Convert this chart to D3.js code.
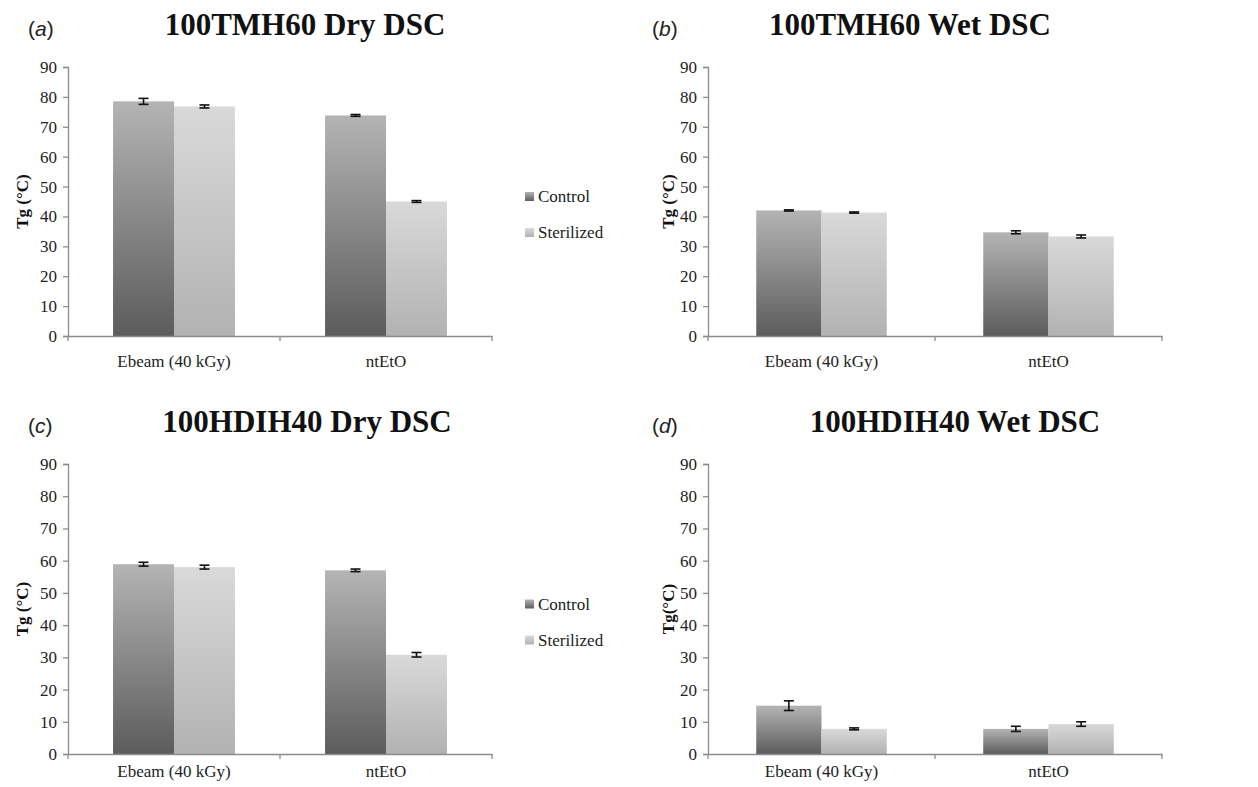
<!DOCTYPE html>
<html>
<head>
<meta charset="utf-8">
<script src="https://cdn.jsdelivr.net/npm/d3@7"></script>
<style>
  html, body { margin: 0; padding: 0; background: #fff; }
  svg { display: block; }
</style>
</head>
<body>
<svg id="chart" width="1258" height="787"></svg>
<script>
// ---------- DATA ----------
const categories = ["Ebeam (40 kGy)", "ntEtO"];
const seriesNames = ["Control", "Sterilized"];
const yTicks = [0, 10, 20, 30, 40, 50, 60, 70, 80, 90];
const panelLetters = ["a", "b", "c", "d"];
const panelTitles = ["100TMH60 Dry DSC", "100TMH60 Wet DSC", "100HDIH40 Dry DSC", "100HDIH40 Wet DSC"];
const yLabels = ["Tg (°C)", "Tg (°C)", "Tg (°C)", "Tg(°C)"];
// values per category: [Control, Sterilized]
const valuesA = [[78.5, 76.8], [73.8, 45.0]];
const errorsA = [[1.0, 0.5], [0.3, 0.3]];
const valuesB = [[42.0, 41.3], [34.7, 33.3]];
const errorsB = [[0.2, 0.2], [0.5, 0.5]];
const valuesC = [[58.9, 58.0], [57.0, 30.8]];
const errorsC = [[0.6, 0.6], [0.4, 0.7]];
const valuesD = [[15.0, 7.8], [7.8, 9.3]];
const errorsD = [[1.5, 0.3], [0.8, 0.7]];
const legendPanels = [true, false, true, false];

// ---------- LAYOUT ----------
const layout = [
  { x0: 68,  x1: 492,  yTop: 67,  yBot: 336, xPad: 19, labX: 22,  titleX: 305, titleY: 35,  letterX: 28,  letterY: 36 },
  { x0: 708, x1: 1162, yTop: 67,  yBot: 336, xPad: 19, labX: 668, titleX: 910, titleY: 35,  letterX: 652, letterY: 36 },
  { x0: 68,  x1: 492,  yTop: 464, yBot: 754, xPad: 11, labX: 22,  titleX: 307, titleY: 432, letterX: 28,  letterY: 433 },
  { x0: 708, x1: 1162, yTop: 464, yBot: 754, xPad: 11, labX: 668, titleX: 955, titleY: 432, letterX: 652, letterY: 433 }
];
const allValues = [valuesA, valuesB, valuesC, valuesD];
const allErrors = [errorsA, errorsB, errorsC, errorsD];

const svg = d3.select("#chart");
const serif = "'Liberation Serif', 'Times New Roman', serif";
const sans = "'Liberation Sans', Arial, sans-serif";
const axisColor = "#8c8c8c";

// gradients
const defs = svg.append("defs");
const gradStops = {
  Control: ["#b4b4b4", "#5c5c5c"],
  Sterilized: ["#d9d9d9", "#b2b2b2"]
};
seriesNames.forEach(s => {
  const g = defs.append("linearGradient").attr("id", "grad-" + s)
    .attr("x1", 0).attr("y1", 0).attr("x2", 0).attr("y2", 1);
  g.append("stop").attr("offset", "0%").attr("stop-color", gradStops[s][0]);
  g.append("stop").attr("offset", "100%").attr("stop-color", gradStops[s][1]);
});

layout.forEach((L, pi) => {
  const g = svg.append("g");
  const values = allValues[pi];
  const errors = allErrors[pi];

  const y = d3.scaleLinear().domain([0, 90]).range([L.yBot, L.yTop]);
  const x0 = d3.scaleBand().domain(categories).range([L.x0, L.x1]).paddingInner(0).paddingOuter(0);
  const groupW = x0.bandwidth() * 0.575;
  const x1 = d3.scaleBand().domain(seriesNames).range([0, groupW]);

  // y axis
  const yAxis = d3.axisLeft(y).tickValues(yTicks).tickSize(5).tickPadding(6);
  const ya = g.append("g").attr("transform", `translate(${L.x0},0)`).call(yAxis)
    .attr("font-family", serif).attr("font-size", 17);
  ya.select(".domain").attr("stroke", axisColor).attr("stroke-width", 1.3);
  ya.selectAll(".tick line").attr("stroke", axisColor).attr("stroke-width", 1.3);
  ya.selectAll(".tick text").attr("fill", "#222");

  // bars
  categories.forEach((cat, ci) => {
    const gx = x0(cat) + (x0.bandwidth() - groupW) / 2;
    seriesNames.forEach((s, si) => {
      const v = values[ci][si];
      g.append("rect")
        .attr("x", gx + x1(s))
        .attr("y", y(v))
        .attr("width", x1.bandwidth())
        .attr("height", y(0) - y(v))
        .attr("fill", `url(#grad-${s})`);
      // error bar
      const cx = gx + x1(s) + x1.bandwidth() / 2;
      const e = errors[ci][si];
      const eg = g.append("g").attr("stroke", "#111").attr("stroke-width", 1.6);
      eg.append("line").attr("x1", cx).attr("x2", cx).attr("y1", y(v + e)).attr("y2", y(v - e));
      eg.append("line").attr("x1", cx - 5).attr("x2", cx + 5).attr("y1", y(v + e)).attr("y2", y(v + e));
      eg.append("line").attr("x1", cx - 5).attr("x2", cx + 5).attr("y1", y(v - e)).attr("y2", y(v - e));
    });
  });

  // x axis
  const xAxis = d3.axisBottom(x0).tickSize(0).tickPadding(L.xPad);
  const xa = g.append("g").attr("transform", `translate(0,${L.yBot})`).call(xAxis)
    .attr("font-family", serif).attr("font-size", 17);
  xa.select(".domain").attr("stroke", axisColor).attr("stroke-width", 1.3);
  xa.selectAll(".tick text").attr("fill", "#222");
  // category separator ticks
  const bounds = [L.x0, x0(categories[1]), L.x1];
  bounds.forEach(bx => {
    g.append("line").attr("x1", bx).attr("x2", bx).attr("y1", L.yBot).attr("y2", L.yBot + 5)
      .attr("stroke", axisColor).attr("stroke-width", 1.3);
  });

  // y label
  g.append("text")
    .attr("transform", `translate(${L.labX},${(L.yTop + L.yBot) / 2}) rotate(-90)`)
    .attr("text-anchor", "middle").attr("dominant-baseline", "central")
    .attr("font-family", serif).attr("font-weight", "bold").attr("font-size", 17)
    .attr("fill", "#111")
    .text(yLabels[pi]);

  // title
  g.append("text")
    .attr("x", L.titleX).attr("y", L.titleY)
    .attr("text-anchor", "middle")
    .attr("font-family", serif).attr("font-weight", "bold").attr("font-size", 31)
    .attr("fill", "#111")
    .text(panelTitles[pi]);

  // panel letter
  const lt = g.append("text").attr("x", L.letterX).attr("y", L.letterY)
    .attr("font-family", sans).attr("font-size", 21).attr("fill", "#222");
  lt.append("tspan").text("(");
  lt.append("tspan").attr("font-style", "italic").text(panelLetters[pi]);
  lt.append("tspan").text(")");

  // legend
  if (legendPanels[pi]) {
    const midY = (L.yTop + L.yBot) / 2;
    const legY = [midY - 5, midY + 31];
    seriesNames.forEach((s, si) => {
      g.append("rect").attr("x", 525).attr("y", legY[si] - 4.5).attr("width", 9).attr("height", 9)
        .attr("fill", `url(#grad-${s})`);
      g.append("text").attr("x", 538).attr("y", legY[si])
        .attr("dominant-baseline", "central")
        .attr("font-family", serif).attr("font-size", 17).attr("fill", "#222")
        .text(s);
    });
  }
});
</script>
</body>
</html>
